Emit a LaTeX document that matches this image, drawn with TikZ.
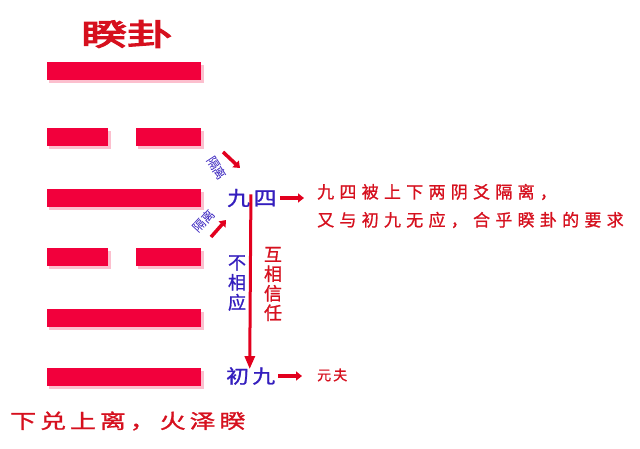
\documentclass[tikz,border=0pt]{standalone}
\usepackage{fontspec}
\usepackage{graphicx}
\usetikzlibrary{arrows.meta}
\newfontfamily\cjk{Noto Sans CJK SC}
\newfontfamily\cjkbold[FakeBold=3.5]{Noto Sans CJK SC}
\newfontfamily\cjkmed[FakeBold=1]{Noto Sans CJK SC}
\definecolor{barred}{RGB}{242,0,60}
\definecolor{txtred}{RGB}{214,16,30}
\definecolor{txtblue}{RGB}{52,30,190}
\definecolor{arrred}{RGB}{226,0,30}
\tikzset{
  yao/.style={fill=barred, draw=none},
  yaoshadow/.style={fill=barred!25, draw=none},
  bluetxt/.style={text=txtblue, inner sep=0pt},
  redtxt/.style={text=txtred, inner sep=0pt},
  smallarrow/.style={draw=arrred, line width=3.5pt, -{Triangle[width=9pt,length=6pt]}},
  longarrow/.style={draw=arrred, line width=3pt, -{Triangle[width=10pt,length=13pt]}},
}
\begin{document}
\begin{tikzpicture}[x=1pt,y=-1pt]
\useasboundingbox (0,0) rectangle (640,448);
\fill[white] (0,0) rectangle (640,448);
% title
\node[redtxt] (title) at (127,34) {\scalebox{1.52}[1]{\fontsize{30}{30}\cjkbold 睽卦}};
% yao lines: shadows
\foreach \y in {62,189,309,368}{
  \fill[yaoshadow] (49,\y+3) rectangle (204,\y+21);
}
\foreach \y in {128,248}{
  \fill[yaoshadow] (49,\y+3) rectangle (111,\y+21);
  \fill[yaoshadow] (138,\y+3) rectangle (204,\y+21);
}
\foreach \y in {62,189,309,368}{
  \fill[yao] (47,\y) rectangle (201,\y+18);
}
\foreach \y in {128,248}{
  \fill[yao] (47,\y) rectangle (108,\y+18);
  \fill[yao] (136,\y) rectangle (201,\y+18);
}
% main labels
\node[bluetxt, anchor=west] (j4) at (227,198) {\scalebox{1.15}[1]{\fontsize{20}{20}\cjkmed\addfontfeature{LetterSpace=15}九四}};
\node[bluetxt, anchor=west] (c9) at (226,376) {\scalebox{1.2}[1]{\fontsize{19}{19}\cjkmed\addfontfeature{LetterSpace=15}初九}};
% right explanations
\node[redtxt, anchor=west, align=left, font={\fontsize{17}{28}\cjkmed\addfontfeature{LetterSpace=31}}] (expl) at (317,206) {九四被上下两阴爻隔离，\\又与初九无应，合乎睽卦的要求};
\node[redtxt, anchor=west] (yf) at (317,375) {\fontsize{14}{14}\cjkmed\addfontfeature{LetterSpace=15}元夫};
\coordinate (e1) at (304,198);
\coordinate (e2) at (302,376);
\draw[smallarrow] (j4.east) ++(3,0) coordinate (j4r) -- (e1);
\draw[smallarrow] (c9.east) ++(3,0) coordinate (c9r) -- (e2);
% vertical arrow
\draw[longarrow] ([xshift=-1pt,yshift=13pt]j4.south) coordinate (va) -- ([xshift=-1pt,yshift=-2pt]c9.north);
% vertical texts
\node[bluetxt, align=center, font={\fontsize{18}{20}\cjkmed}] (bxy) at (237,283) {不\\相\\应};
\node[redtxt, align=center, font={\fontsize{18}{19.5}\cjkmed}] (hxxr) at (273,284) {互\\相\\信\\任};
% isolation labels
\node[bluetxt, rotate=-57, font={\fontsize{12.5}{12.5}\cjk}] (gl1) at (217,168) {隔离};
\node[bluetxt, rotate=47, font={\fontsize{12.5}{12.5}\cjk}] (gl2) at (204,221) {隔离};
\coordinate (a1s) at (223,152);
\coordinate (a1e) at (240,168);
\coordinate (a2s) at (211,237);
\coordinate (a2e) at (226,220);
\draw[smallarrow] (a1s) -- (a1e);
\draw[smallarrow] (a2s) -- (a2e);
% bottom caption
\node[redtxt, anchor=west] (cap) at (10,421) {\scalebox{1.3}[1]{\fontsize{20}{20}\cjkmed\addfontfeature{LetterSpace=15}下兑上离，火泽睽}};
\end{tikzpicture}
\end{document}
